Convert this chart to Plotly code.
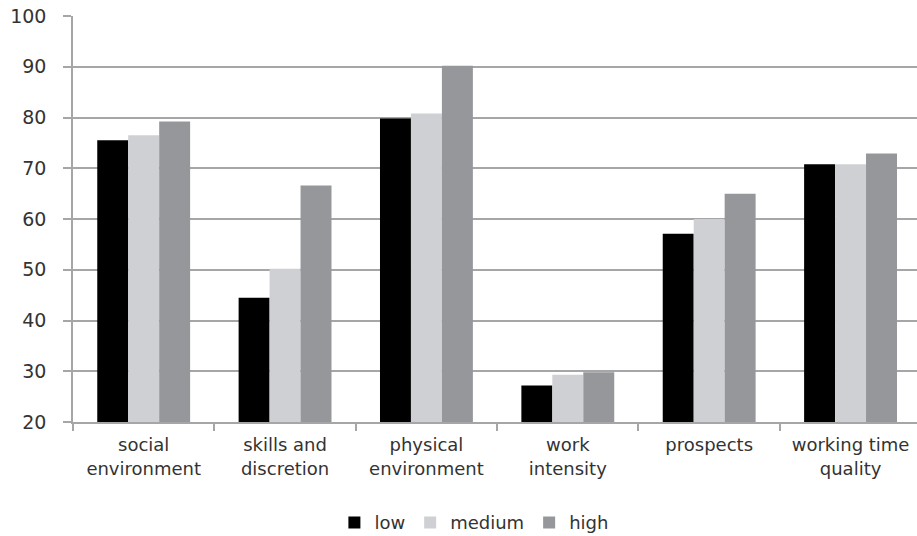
import plotly.graph_objects as go

categories = ["social<br>environment", "skills and<br>discretion", "physical<br>environment",
              "work<br>intensity", "prospects", "working time<br>quality"]
series_names = ["low", "medium", "high"]
low = [75.5, 44.5, 79.8, 27.2, 57.1, 70.8]
medium = [76.5, 50.2, 80.8, 29.3, 60.0, 70.8]
high = [79.2, 66.6, 90.2, 29.8, 65.0, 72.9]
colors = ["#000000", "#cfd0d3", "#96979b"]

FONT = "DejaVu Sans"
TXT = "#333333"
GRID = "#a6a6a8"

fig = go.Figure()
for name, vals, c in zip(series_names, [low, medium, high], colors):
    fig.add_trace(go.Bar(x=categories, y=vals, name=name, marker_color=c,
                         marker_line_width=0))

fig.update_layout(
    width=917, height=536,
    margin=dict(l=73, r=0, t=15.5, b=114.3, autoexpand=False),
    paper_bgcolor="white", plot_bgcolor="white",
    barmode="group", bargap=0.343, bargroupgap=0,
    font=dict(family=FONT, size=18, color=TXT),
    showlegend=True,
    legend=dict(orientation="h", x=0.475, xanchor="center",
                yref="container", y=1 - 522.7 / 536, yanchor="middle",
                font=dict(family=FONT, size=18, color=TXT), itemwidth=30,
                traceorder="normal"),
)
fig.update_xaxes(
    range=[-0.5, 5.47], showline=True, linecolor=GRID, linewidth=1.5,
    ticks="outside", tickson="boundaries", ticklen=7, tickcolor=GRID, tickwidth=1.5,
    showgrid=False, tickfont=dict(family=FONT, size=18, color=TXT),
    ticklabelstandoff=6, automargin=False,
)
fig.update_yaxes(
    range=[20, 100], dtick=10, showline=True, linecolor=GRID, linewidth=1.5,
    ticks="outside", ticklen=8, tickcolor=GRID, tickwidth=1.5,
    showgrid=True, gridcolor=GRID, gridwidth=1.6, zeroline=False,
    ticklabelstandoff=13, tickfont=dict(family=FONT, size=19, color=TXT),
    automargin=False,
)
fig.write_html("out.html", config={"displayModeBar": False},
               post_script="document.body.style.margin='0';document.body.style.overflow='hidden';")
